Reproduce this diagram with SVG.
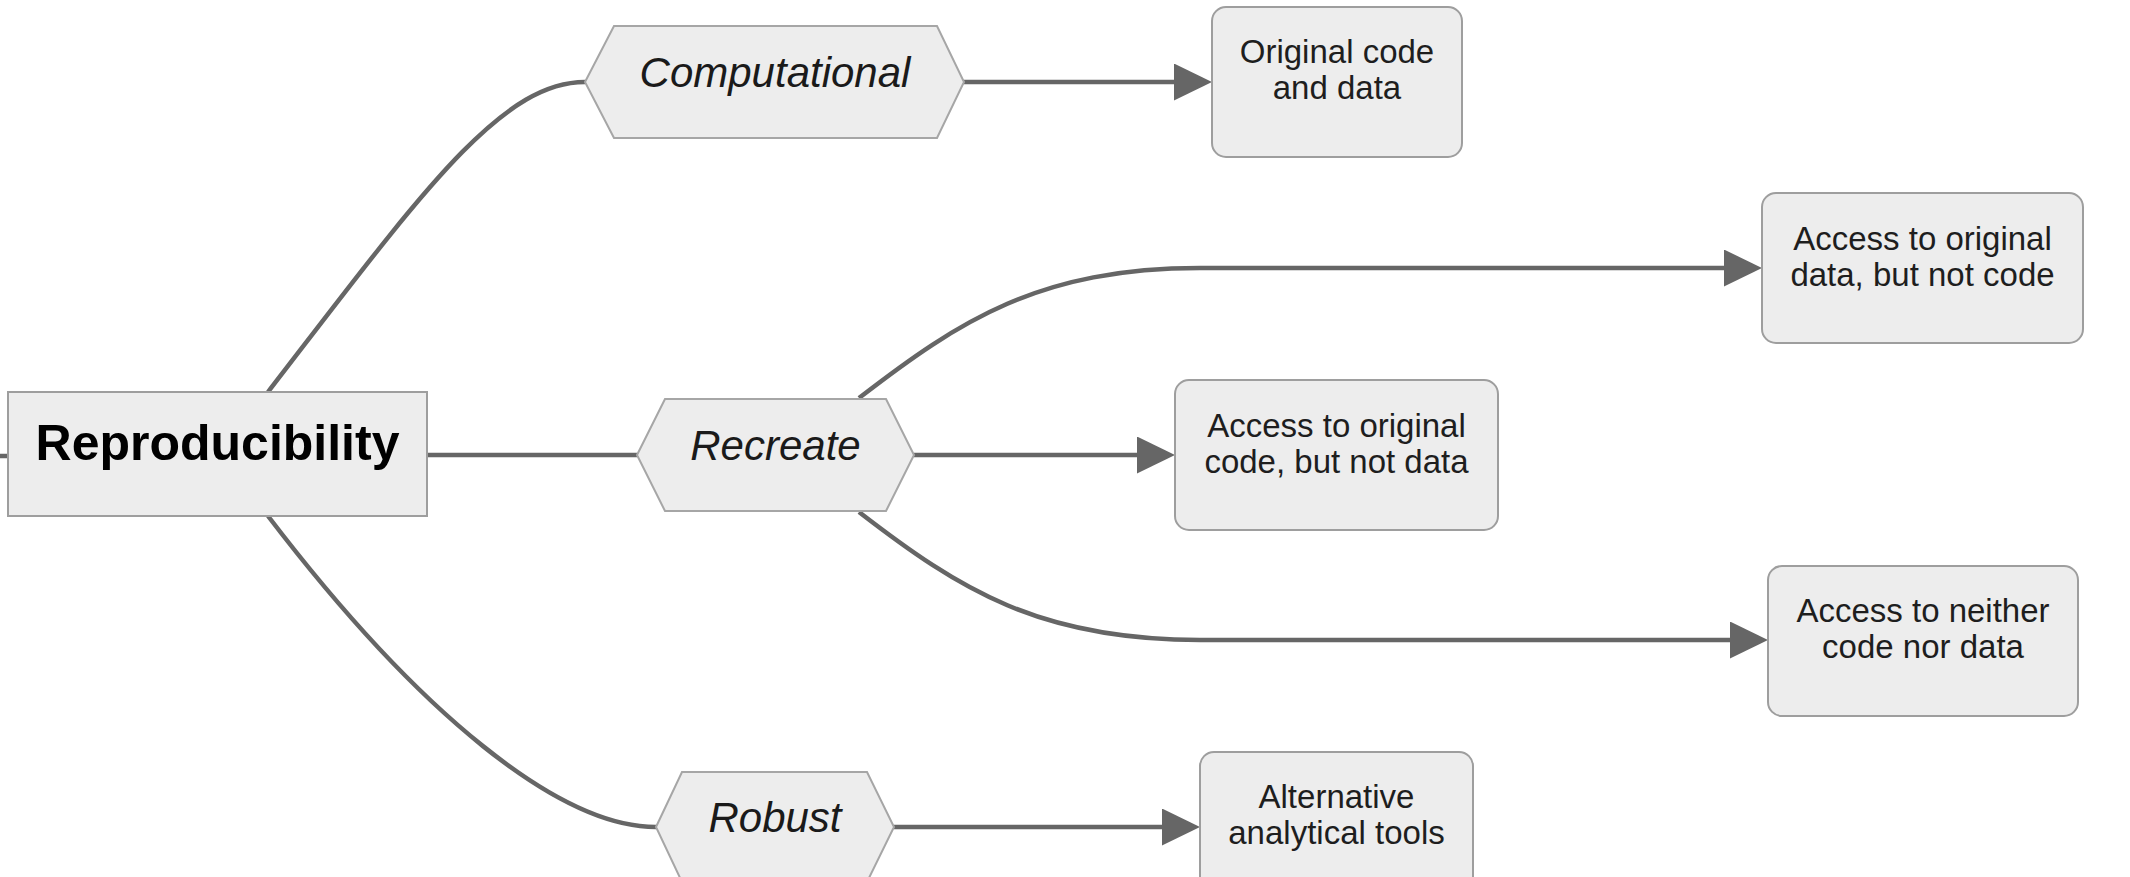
<svg xmlns="http://www.w3.org/2000/svg" width="2130" height="877" viewBox="0 0 2130 877">
<style>
.conn{fill:none;stroke:#666666;stroke-width:4.5;stroke-linecap:butt}
.box{fill:#EDEDED;stroke:#9E9E9E;stroke-width:2}
.hex{fill:#EDEDED;stroke:#A6A6A6;stroke-width:2}
.t{font-family:"Liberation Sans",Arial,sans-serif;font-size:33px;fill:#1e1e1e;text-anchor:middle}
.ti{font-family:"Liberation Sans",Arial,sans-serif;font-size:42px;font-style:italic;fill:#1a1a1a;text-anchor:middle}
.tb{font-family:"Liberation Sans",Arial,sans-serif;font-size:50px;font-weight:bold;fill:#000000;text-anchor:middle}
</style>
<defs>
<marker id="arr" markerUnits="userSpaceOnUse" markerWidth="38" markerHeight="37" refX="0" refY="18.5" orient="auto" viewBox="0 0 38 37">
<path d="M0,0 L38,18.5 L0,37 Z" fill="#666666"/>
</marker>
</defs>
<rect width="2130" height="877" fill="#ffffff"/>
<g id="connectors">
<path class="conn" d="M0,456 L8,456"/>
<path class="conn" d="M268,392 C420,195 500,82 585,82"/>
<path class="conn" d="M427,455 L637,455"/>
<path class="conn" d="M268,516 C420,715 560,827 656,827"/>
<path class="conn" d="M964,82 L1174,82" marker-end="url(#arr)"/>
<path class="conn" d="M859,398 C960,320 1040,268 1200,268 L1724,268" marker-end="url(#arr)"/>
<path class="conn" d="M914,455 L1137,455" marker-end="url(#arr)"/>
<path class="conn" d="M859,512 C960,590 1040,640 1200,640 L1730,640" marker-end="url(#arr)"/>
<path class="conn" d="M894,827 L1162,827" marker-end="url(#arr)"/>
</g>
<g id="reproducibility">
<rect class="box" x="8" y="392" width="419" height="124"/>
<text class="tb" x="217.5" y="460">Reproducibility</text>
</g>
<g id="computational">
<polygon class="hex" points="585,82 614,26 937,26 964,82 937,138 614,138"/>
<text class="ti" x="775" y="87">Computational</text>
</g>
<g id="recreate">
<polygon class="hex" points="637,455 665,399 886,399 914,455 886,511 665,511"/>
<text class="ti" x="775.5" y="460">Recreate</text>
</g>
<g id="robust">
<polygon class="hex" points="656,827 682,772 867,772 894,827 867,882 682,882"/>
<text class="ti" x="775" y="832">Robust</text>
</g>
<g id="original-code-data">
<rect class="box" x="1212" y="7" width="250" height="150" rx="14" ry="14"/>
<text class="t" x="1337" y="63">Original code</text>
<text class="t" x="1337" y="99">and data</text>
</g>
<g id="data-not-code">
<rect class="box" x="1762" y="193" width="321" height="150" rx="14" ry="14"/>
<text class="t" x="1922.5" y="250">Access to original</text>
<text class="t" x="1922.5" y="286">data, but not code</text>
</g>
<g id="code-not-data">
<rect class="box" x="1175" y="380" width="323" height="150" rx="14" ry="14"/>
<text class="t" x="1336.5" y="437">Access to original</text>
<text class="t" x="1336.5" y="473">code, but not data</text>
</g>
<g id="neither">
<rect class="box" x="1768" y="566" width="310" height="150" rx="14" ry="14"/>
<text class="t" x="1923" y="622">Access to neither</text>
<text class="t" x="1923" y="658">code nor data</text>
</g>
<g id="alternative">
<rect class="box" x="1200" y="752" width="273" height="150" rx="14" ry="14"/>
<text class="t" x="1336.5" y="808">Alternative</text>
<text class="t" x="1336.5" y="844">analytical tools</text>
</g>
</svg>
